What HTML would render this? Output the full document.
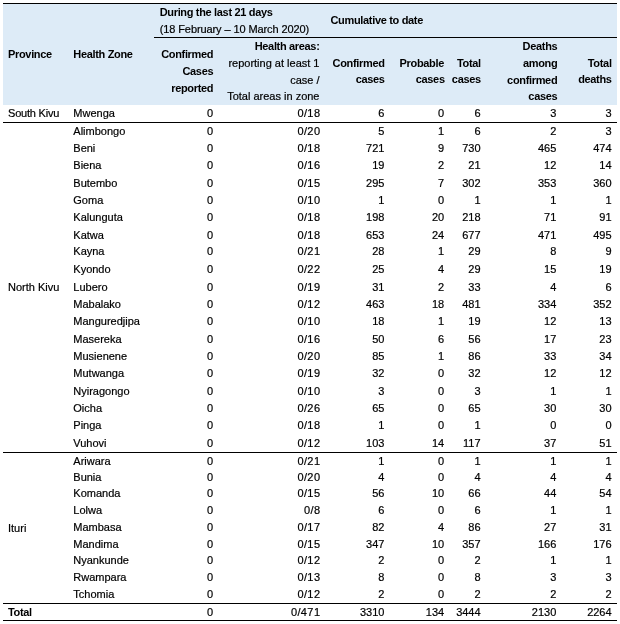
<!DOCTYPE html>
<html><head><meta charset="utf-8"><title>Table</title>
<style>
html,body{margin:0;padding:0;background:#fff;}
body{width:620px;height:624px;position:relative;overflow:hidden;font-family:"Liberation Sans",sans-serif;font-size:11.0px;color:#000;}
.t{position:absolute;white-space:nowrap;line-height:14px;-webkit-text-stroke:0.2px #000;}
.b{font-weight:bold;letter-spacing:-0.33px;-webkit-text-stroke:0;}
.hd{position:absolute;left:3px;top:4px;width:614px;height:101px;background:#ddebf7;}
.ln{position:absolute;height:1px;background:#000;}
</style></head><body>
<div class="hd"></div>
<div class="ln" style="left:3px;top:3px;width:614px"></div>
<div class="ln" style="left:154px;top:37px;width:463px"></div>
<div class="ln" style="left:3px;top:122px;width:614px"></div>
<div class="ln" style="left:3px;top:452px;width:614px"></div>
<div class="ln" style="left:3px;top:603px;width:614px"></div>
<div class="ln" style="left:3px;top:620px;width:614px"></div>

<div class="t b" style="top:46.99px;left:8.00px;">Province</div>
<div class="t b" style="top:46.99px;left:73.30px;">Health Zone</div>
<div class="t b" style="top:5.19px;left:159.70px;">During the last 21 days</div>
<div class="t" style="top:22.19px;left:159.70px;letter-spacing:-0.1px;">(18 February – 10 March 2020)</div>
<div class="t b" style="top:46.99px;right:406.80px;">Confirmed</div>
<div class="t b" style="top:63.99px;right:406.80px;">Cases</div>
<div class="t b" style="top:80.99px;right:406.80px;">reported</div>
<div class="t b" style="top:38.99px;right:300.50px;">Health areas:</div>
<div class="t" style="top:55.99px;right:300.50px;">reporting at least 1</div>
<div class="t" style="top:72.59px;right:300.50px;">case /</div>
<div class="t" style="top:89.19px;right:300.50px;">Total areas in zone</div>
<div class="t b" style="top:13.19px;left:330.50px;">Cumulative to date</div>
<div class="t b" style="top:55.99px;right:235.40px;">Confirmed</div>
<div class="t b" style="top:72.39px;right:235.40px;">cases</div>
<div class="t b" style="top:55.99px;right:176.00px;">Probable</div>
<div class="t b" style="top:72.39px;right:175.30px;">cases</div>
<div class="t b" style="top:55.99px;right:139.20px;">Total</div>
<div class="t b" style="top:72.39px;right:139.20px;">cases</div>
<div class="t b" style="top:38.99px;right:62.70px;">Deaths</div>
<div class="t b" style="top:55.79px;right:62.70px;">among</div>
<div class="t b" style="top:72.59px;right:62.70px;">confirmed</div>
<div class="t b" style="top:88.79px;right:62.70px;">cases</div>
<div class="t b" style="top:55.79px;right:8.40px;">Total</div>
<div class="t b" style="top:71.99px;right:8.40px;">deaths</div>
<div class="t" style="top:105.99px;left:8.00px;letter-spacing:-0.2px;">South Kivu</div>
<div class="t" style="top:105.99px;left:73.30px;">Mwenga</div>
<div class="t" style="top:105.99px;right:406.80px;">0</div>
<div class="t" style="top:105.99px;right:299.60px;letter-spacing:0.4px;">0/18</div>
<div class="t" style="top:105.99px;right:235.60px;">6</div>
<div class="t" style="top:105.99px;right:175.80px;">0</div>
<div class="t" style="top:105.99px;right:139.40px;">6</div>
<div class="t" style="top:105.99px;right:63.70px;">3</div>
<div class="t" style="top:105.99px;right:8.40px;">3</div>
<div class="t" style="top:123.69px;left:73.30px;">Alimbongo</div>
<div class="t" style="top:123.69px;right:406.80px;">0</div>
<div class="t" style="top:123.69px;right:299.60px;letter-spacing:0.4px;">0/20</div>
<div class="t" style="top:123.69px;right:235.60px;">5</div>
<div class="t" style="top:123.69px;right:175.80px;">1</div>
<div class="t" style="top:123.69px;right:139.40px;">6</div>
<div class="t" style="top:123.69px;right:63.70px;">2</div>
<div class="t" style="top:123.69px;right:8.40px;">3</div>
<div class="t" style="top:140.79px;left:73.30px;">Beni</div>
<div class="t" style="top:140.79px;right:406.80px;">0</div>
<div class="t" style="top:140.79px;right:299.60px;letter-spacing:0.4px;">0/18</div>
<div class="t" style="top:140.79px;right:235.60px;">721</div>
<div class="t" style="top:140.79px;right:175.80px;">9</div>
<div class="t" style="top:140.79px;right:139.40px;">730</div>
<div class="t" style="top:140.79px;right:63.70px;">465</div>
<div class="t" style="top:140.79px;right:8.40px;">474</div>
<div class="t" style="top:157.79px;left:73.30px;">Biena</div>
<div class="t" style="top:157.79px;right:406.80px;">0</div>
<div class="t" style="top:157.79px;right:299.60px;letter-spacing:0.4px;">0/16</div>
<div class="t" style="top:157.79px;right:235.60px;">19</div>
<div class="t" style="top:157.79px;right:175.80px;">2</div>
<div class="t" style="top:157.79px;right:139.40px;">21</div>
<div class="t" style="top:157.79px;right:63.70px;">12</div>
<div class="t" style="top:157.79px;right:8.40px;">14</div>
<div class="t" style="top:175.64px;left:73.30px;">Butembo</div>
<div class="t" style="top:175.64px;right:406.80px;">0</div>
<div class="t" style="top:175.64px;right:299.60px;letter-spacing:0.4px;">0/15</div>
<div class="t" style="top:175.64px;right:235.60px;">295</div>
<div class="t" style="top:175.64px;right:175.80px;">7</div>
<div class="t" style="top:175.64px;right:139.40px;">302</div>
<div class="t" style="top:175.64px;right:63.70px;">353</div>
<div class="t" style="top:175.64px;right:8.40px;">360</div>
<div class="t" style="top:192.89px;left:73.30px;">Goma</div>
<div class="t" style="top:192.89px;right:406.80px;">0</div>
<div class="t" style="top:192.89px;right:299.60px;letter-spacing:0.4px;">0/10</div>
<div class="t" style="top:192.89px;right:235.60px;">1</div>
<div class="t" style="top:192.89px;right:175.80px;">0</div>
<div class="t" style="top:192.89px;right:139.40px;">1</div>
<div class="t" style="top:192.89px;right:63.70px;">1</div>
<div class="t" style="top:192.89px;right:8.40px;">1</div>
<div class="t" style="top:210.09px;left:73.30px;">Kalunguta</div>
<div class="t" style="top:210.09px;right:406.80px;">0</div>
<div class="t" style="top:210.09px;right:299.60px;letter-spacing:0.4px;">0/18</div>
<div class="t" style="top:210.09px;right:235.60px;">198</div>
<div class="t" style="top:210.09px;right:175.80px;">20</div>
<div class="t" style="top:210.09px;right:139.40px;">218</div>
<div class="t" style="top:210.09px;right:63.70px;">71</div>
<div class="t" style="top:210.09px;right:8.40px;">91</div>
<div class="t" style="top:227.69px;left:73.30px;">Katwa</div>
<div class="t" style="top:227.69px;right:406.80px;">0</div>
<div class="t" style="top:227.69px;right:299.60px;letter-spacing:0.4px;">0/18</div>
<div class="t" style="top:227.69px;right:235.60px;">653</div>
<div class="t" style="top:227.69px;right:175.80px;">24</div>
<div class="t" style="top:227.69px;right:139.40px;">677</div>
<div class="t" style="top:227.69px;right:63.70px;">471</div>
<div class="t" style="top:227.69px;right:8.40px;">495</div>
<div class="t" style="top:244.49px;left:73.30px;">Kayna</div>
<div class="t" style="top:244.49px;right:406.80px;">0</div>
<div class="t" style="top:244.49px;right:299.60px;letter-spacing:0.4px;">0/21</div>
<div class="t" style="top:244.49px;right:235.60px;">28</div>
<div class="t" style="top:244.49px;right:175.80px;">1</div>
<div class="t" style="top:244.49px;right:139.40px;">29</div>
<div class="t" style="top:244.49px;right:63.70px;">8</div>
<div class="t" style="top:244.49px;right:8.40px;">9</div>
<div class="t" style="top:261.74px;left:73.30px;">Kyondo</div>
<div class="t" style="top:261.74px;right:406.80px;">0</div>
<div class="t" style="top:261.74px;right:299.60px;letter-spacing:0.4px;">0/22</div>
<div class="t" style="top:261.74px;right:235.60px;">25</div>
<div class="t" style="top:261.74px;right:175.80px;">4</div>
<div class="t" style="top:261.74px;right:139.40px;">29</div>
<div class="t" style="top:261.74px;right:63.70px;">15</div>
<div class="t" style="top:261.74px;right:8.40px;">19</div>
<div class="t" style="top:279.59px;left:73.30px;">Lubero</div>
<div class="t" style="top:279.59px;right:406.80px;">0</div>
<div class="t" style="top:279.59px;right:299.60px;letter-spacing:0.4px;">0/19</div>
<div class="t" style="top:279.59px;right:235.60px;">31</div>
<div class="t" style="top:279.59px;right:175.80px;">2</div>
<div class="t" style="top:279.59px;right:139.40px;">33</div>
<div class="t" style="top:279.59px;right:63.70px;">4</div>
<div class="t" style="top:279.59px;right:8.40px;">6</div>
<div class="t" style="top:296.99px;left:73.30px;">Mabalako</div>
<div class="t" style="top:296.99px;right:406.80px;">0</div>
<div class="t" style="top:296.99px;right:299.60px;letter-spacing:0.4px;">0/12</div>
<div class="t" style="top:296.99px;right:235.60px;">463</div>
<div class="t" style="top:296.99px;right:175.80px;">18</div>
<div class="t" style="top:296.99px;right:139.40px;">481</div>
<div class="t" style="top:296.99px;right:63.70px;">334</div>
<div class="t" style="top:296.99px;right:8.40px;">352</div>
<div class="t" style="top:314.49px;left:73.30px;">Manguredjipa</div>
<div class="t" style="top:314.49px;right:406.80px;">0</div>
<div class="t" style="top:314.49px;right:299.60px;letter-spacing:0.4px;">0/10</div>
<div class="t" style="top:314.49px;right:235.60px;">18</div>
<div class="t" style="top:314.49px;right:175.80px;">1</div>
<div class="t" style="top:314.49px;right:139.40px;">19</div>
<div class="t" style="top:314.49px;right:63.70px;">12</div>
<div class="t" style="top:314.49px;right:8.40px;">13</div>
<div class="t" style="top:331.74px;left:73.30px;">Masereka</div>
<div class="t" style="top:331.74px;right:406.80px;">0</div>
<div class="t" style="top:331.74px;right:299.60px;letter-spacing:0.4px;">0/16</div>
<div class="t" style="top:331.74px;right:235.60px;">50</div>
<div class="t" style="top:331.74px;right:175.80px;">6</div>
<div class="t" style="top:331.74px;right:139.40px;">56</div>
<div class="t" style="top:331.74px;right:63.70px;">17</div>
<div class="t" style="top:331.74px;right:8.40px;">23</div>
<div class="t" style="top:348.64px;left:73.30px;">Musienene</div>
<div class="t" style="top:348.64px;right:406.80px;">0</div>
<div class="t" style="top:348.64px;right:299.60px;letter-spacing:0.4px;">0/20</div>
<div class="t" style="top:348.64px;right:235.60px;">85</div>
<div class="t" style="top:348.64px;right:175.80px;">1</div>
<div class="t" style="top:348.64px;right:139.40px;">86</div>
<div class="t" style="top:348.64px;right:63.70px;">33</div>
<div class="t" style="top:348.64px;right:8.40px;">34</div>
<div class="t" style="top:366.39px;left:73.30px;">Mutwanga</div>
<div class="t" style="top:366.39px;right:406.80px;">0</div>
<div class="t" style="top:366.39px;right:299.60px;letter-spacing:0.4px;">0/19</div>
<div class="t" style="top:366.39px;right:235.60px;">32</div>
<div class="t" style="top:366.39px;right:175.80px;">0</div>
<div class="t" style="top:366.39px;right:139.40px;">32</div>
<div class="t" style="top:366.39px;right:63.70px;">12</div>
<div class="t" style="top:366.39px;right:8.40px;">12</div>
<div class="t" style="top:383.69px;left:73.30px;">Nyiragongo</div>
<div class="t" style="top:383.69px;right:406.80px;">0</div>
<div class="t" style="top:383.69px;right:299.60px;letter-spacing:0.4px;">0/10</div>
<div class="t" style="top:383.69px;right:235.60px;">3</div>
<div class="t" style="top:383.69px;right:175.80px;">0</div>
<div class="t" style="top:383.69px;right:139.40px;">3</div>
<div class="t" style="top:383.69px;right:63.70px;">1</div>
<div class="t" style="top:383.69px;right:8.40px;">1</div>
<div class="t" style="top:400.89px;left:73.30px;">Oicha</div>
<div class="t" style="top:400.89px;right:406.80px;">0</div>
<div class="t" style="top:400.89px;right:299.60px;letter-spacing:0.4px;">0/26</div>
<div class="t" style="top:400.89px;right:235.60px;">65</div>
<div class="t" style="top:400.89px;right:175.80px;">0</div>
<div class="t" style="top:400.89px;right:139.40px;">65</div>
<div class="t" style="top:400.89px;right:63.70px;">30</div>
<div class="t" style="top:400.89px;right:8.40px;">30</div>
<div class="t" style="top:418.39px;left:73.30px;">Pinga</div>
<div class="t" style="top:418.39px;right:406.80px;">0</div>
<div class="t" style="top:418.39px;right:299.60px;letter-spacing:0.4px;">0/18</div>
<div class="t" style="top:418.39px;right:235.60px;">1</div>
<div class="t" style="top:418.39px;right:175.80px;">0</div>
<div class="t" style="top:418.39px;right:139.40px;">1</div>
<div class="t" style="top:418.39px;right:63.70px;">0</div>
<div class="t" style="top:418.39px;right:8.40px;">0</div>
<div class="t" style="top:435.94px;left:73.30px;">Vuhovi</div>
<div class="t" style="top:435.94px;right:406.80px;">0</div>
<div class="t" style="top:435.94px;right:299.60px;letter-spacing:0.4px;">0/12</div>
<div class="t" style="top:435.94px;right:235.60px;">103</div>
<div class="t" style="top:435.94px;right:175.80px;">14</div>
<div class="t" style="top:435.94px;right:139.40px;">117</div>
<div class="t" style="top:435.94px;right:63.70px;">37</div>
<div class="t" style="top:435.94px;right:8.40px;">51</div>
<div class="t" style="top:453.69px;left:73.30px;">Ariwara</div>
<div class="t" style="top:453.69px;right:406.80px;">0</div>
<div class="t" style="top:453.69px;right:299.60px;letter-spacing:0.4px;">0/21</div>
<div class="t" style="top:453.69px;right:235.60px;">1</div>
<div class="t" style="top:453.69px;right:175.80px;">0</div>
<div class="t" style="top:453.69px;right:139.40px;">1</div>
<div class="t" style="top:453.69px;right:63.70px;">1</div>
<div class="t" style="top:453.69px;right:8.40px;">1</div>
<div class="t" style="top:469.79px;left:73.30px;">Bunia</div>
<div class="t" style="top:469.79px;right:406.80px;">0</div>
<div class="t" style="top:469.79px;right:299.60px;letter-spacing:0.4px;">0/20</div>
<div class="t" style="top:469.79px;right:235.60px;">4</div>
<div class="t" style="top:469.79px;right:175.80px;">0</div>
<div class="t" style="top:469.79px;right:139.40px;">4</div>
<div class="t" style="top:469.79px;right:63.70px;">4</div>
<div class="t" style="top:469.79px;right:8.40px;">4</div>
<div class="t" style="top:485.79px;left:73.30px;">Komanda</div>
<div class="t" style="top:485.79px;right:406.80px;">0</div>
<div class="t" style="top:485.79px;right:299.60px;letter-spacing:0.4px;">0/15</div>
<div class="t" style="top:485.79px;right:235.60px;">56</div>
<div class="t" style="top:485.79px;right:175.80px;">10</div>
<div class="t" style="top:485.79px;right:139.40px;">66</div>
<div class="t" style="top:485.79px;right:63.70px;">44</div>
<div class="t" style="top:485.79px;right:8.40px;">54</div>
<div class="t" style="top:502.59px;left:73.30px;">Lolwa</div>
<div class="t" style="top:502.59px;right:406.80px;">0</div>
<div class="t" style="top:502.59px;right:299.60px;letter-spacing:0.4px;">0/8</div>
<div class="t" style="top:502.59px;right:235.60px;">6</div>
<div class="t" style="top:502.59px;right:175.80px;">0</div>
<div class="t" style="top:502.59px;right:139.40px;">6</div>
<div class="t" style="top:502.59px;right:63.70px;">1</div>
<div class="t" style="top:502.59px;right:8.40px;">1</div>
<div class="t" style="top:519.99px;left:73.30px;">Mambasa</div>
<div class="t" style="top:519.99px;right:406.80px;">0</div>
<div class="t" style="top:519.99px;right:299.60px;letter-spacing:0.4px;">0/17</div>
<div class="t" style="top:519.99px;right:235.60px;">82</div>
<div class="t" style="top:519.99px;right:175.80px;">4</div>
<div class="t" style="top:519.99px;right:139.40px;">86</div>
<div class="t" style="top:519.99px;right:63.70px;">27</div>
<div class="t" style="top:519.99px;right:8.40px;">31</div>
<div class="t" style="top:536.79px;left:73.30px;">Mandima</div>
<div class="t" style="top:536.79px;right:406.80px;">0</div>
<div class="t" style="top:536.79px;right:299.60px;letter-spacing:0.4px;">0/15</div>
<div class="t" style="top:536.79px;right:235.60px;">347</div>
<div class="t" style="top:536.79px;right:175.80px;">10</div>
<div class="t" style="top:536.79px;right:139.40px;">357</div>
<div class="t" style="top:536.79px;right:63.70px;">166</div>
<div class="t" style="top:536.79px;right:8.40px;">176</div>
<div class="t" style="top:552.99px;left:73.30px;">Nyankunde</div>
<div class="t" style="top:552.99px;right:406.80px;">0</div>
<div class="t" style="top:552.99px;right:299.60px;letter-spacing:0.4px;">0/12</div>
<div class="t" style="top:552.99px;right:235.60px;">2</div>
<div class="t" style="top:552.99px;right:175.80px;">0</div>
<div class="t" style="top:552.99px;right:139.40px;">2</div>
<div class="t" style="top:552.99px;right:63.70px;">1</div>
<div class="t" style="top:552.99px;right:8.40px;">1</div>
<div class="t" style="top:570.09px;left:73.30px;">Rwampara</div>
<div class="t" style="top:570.09px;right:406.80px;">0</div>
<div class="t" style="top:570.09px;right:299.60px;letter-spacing:0.4px;">0/13</div>
<div class="t" style="top:570.09px;right:235.60px;">8</div>
<div class="t" style="top:570.09px;right:175.80px;">0</div>
<div class="t" style="top:570.09px;right:139.40px;">8</div>
<div class="t" style="top:570.09px;right:63.70px;">3</div>
<div class="t" style="top:570.09px;right:8.40px;">3</div>
<div class="t" style="top:586.89px;left:73.30px;">Tchomia</div>
<div class="t" style="top:586.89px;right:406.80px;">0</div>
<div class="t" style="top:586.89px;right:299.60px;letter-spacing:0.4px;">0/12</div>
<div class="t" style="top:586.89px;right:235.60px;">2</div>
<div class="t" style="top:586.89px;right:175.80px;">0</div>
<div class="t" style="top:586.89px;right:139.40px;">2</div>
<div class="t" style="top:586.89px;right:63.70px;">2</div>
<div class="t" style="top:586.89px;right:8.40px;">2</div>
<div class="t" style="top:280.19px;left:8.00px;">North Kivu</div>
<div class="t" style="top:521.19px;left:8.00px;">Ituri</div>
<div class="t b" style="top:604.79px;left:8.00px;">Total</div>
<div class="t" style="top:604.79px;right:406.80px;">0</div>
<div class="t" style="top:604.79px;right:299.60px;letter-spacing:0.4px;">0/471</div>
<div class="t" style="top:604.79px;right:235.60px;">3310</div>
<div class="t" style="top:604.79px;right:175.80px;">134</div>
<div class="t" style="top:604.79px;right:139.40px;">3444</div>
<div class="t" style="top:604.79px;right:63.70px;">2130</div>
<div class="t" style="top:604.79px;right:8.40px;">2264</div>
</body></html>
